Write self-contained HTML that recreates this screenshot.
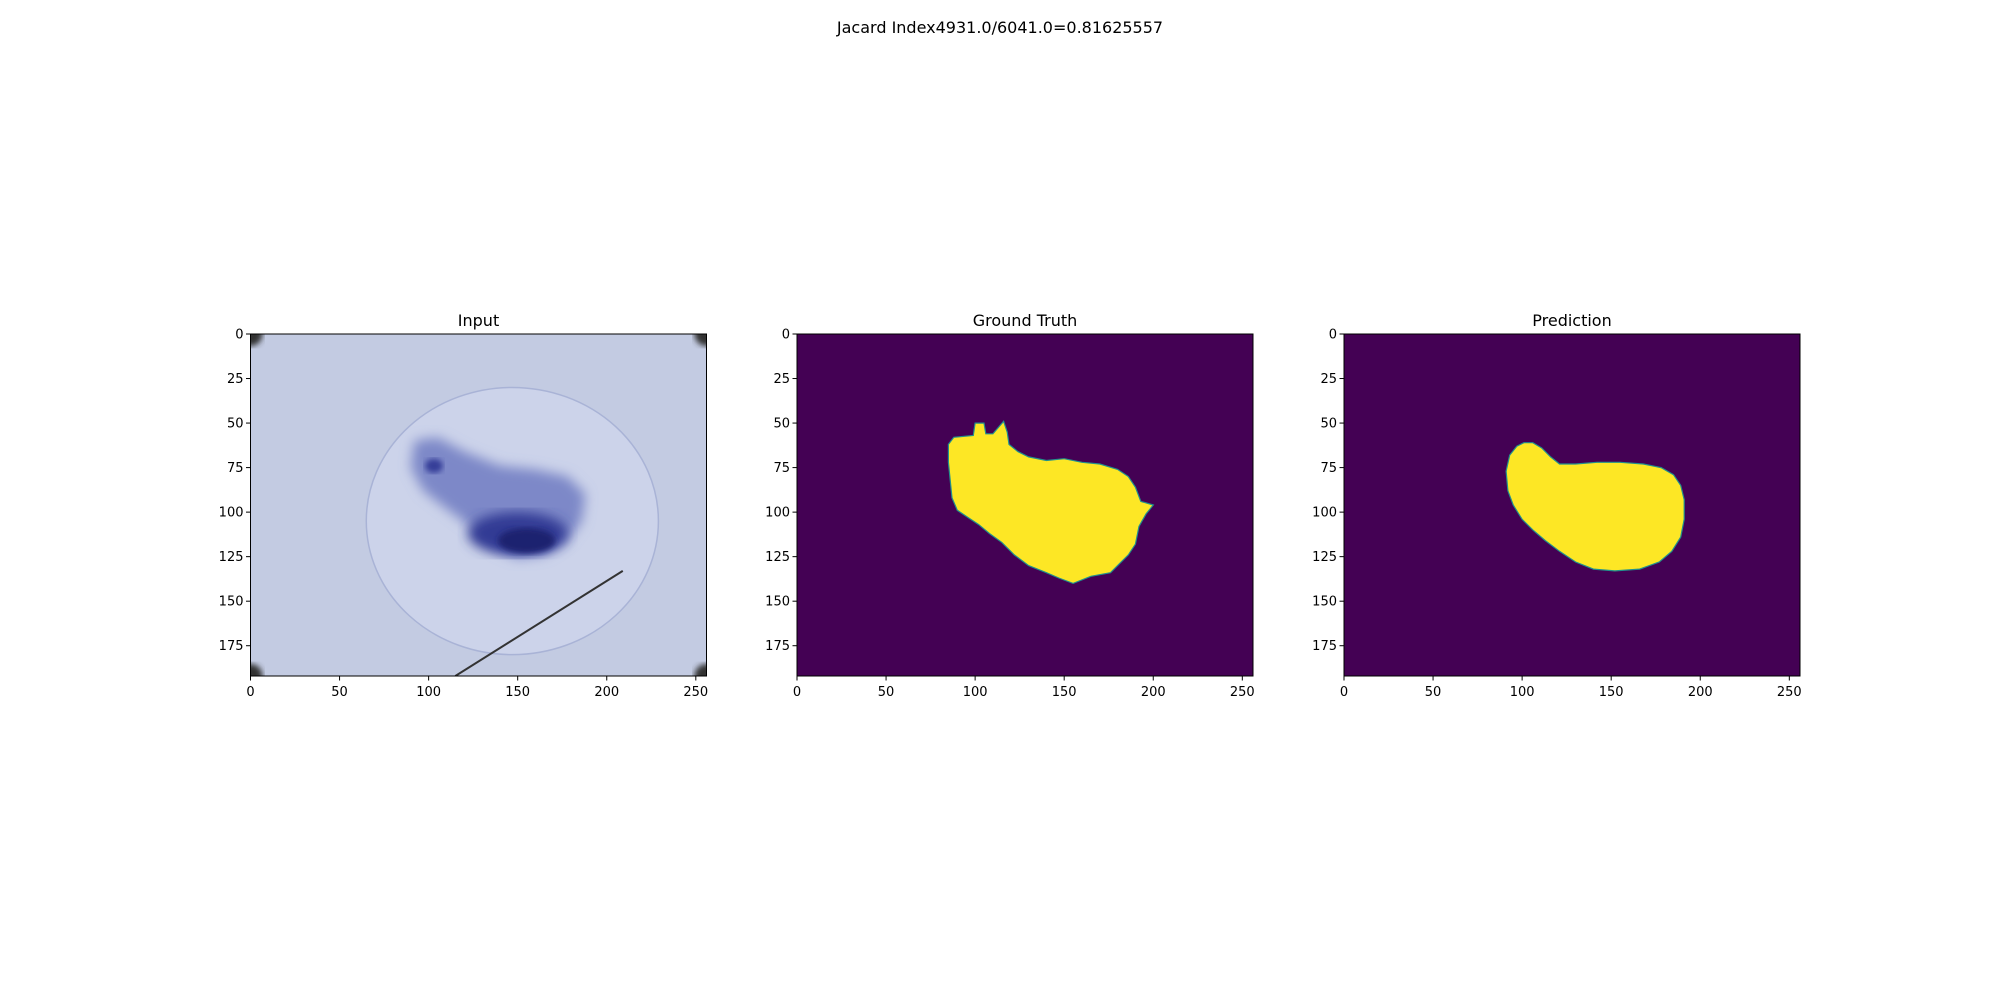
<!DOCTYPE html>
<html><head><meta charset="utf-8"><style>
body{margin:0;background:#fff;width:2000px;height:1000px;overflow:hidden;font-family:"Liberation Sans","DejaVu Sans",sans-serif}
svg text{font-family:"DejaVu Sans","Liberation Sans",sans-serif}
</style></head><body>
<svg id="fig" width="2000" height="1000" xmlns="http://www.w3.org/2000/svg">
<defs>
<filter id="blur6"><feGaussianBlur stdDeviation="6"/></filter>
<filter id="blur3"><feGaussianBlur stdDeviation="3"/></filter>
<filter id="blur1"><feGaussianBlur stdDeviation="1"/></filter>
<clipPath id="clipIn"><rect x="250.5" y="334" width="456" height="342"/></clipPath>
</defs>
<text x="1000" y="33" text-anchor="middle" font-size="16">Jacard Index4931.0/6041.0=0.81625557</text>
</svg>
<script>
const xTicks=[0,50,100,150,200,250];
const yTicks=[0,25,50,75,100,125,150,175];
const imgW=256, imgH=192;
const panelTitles=["Input","Ground Truth","Prediction"];
const gtOutline=[[85,62],[88,58],[99,57],[100,50],[105,50],[106,56],[110,56],[116,49],[118,55],[119,62],[124,66],[130,69],[140,71],[150,70],[160,72],[170,73],[180,76],[186,80],[190,86],[193,94],[200,96],[196,101],[192,108],[190,118],[186,124],[180,130],[176,134],[165,136],[155,140],[147,137],[140,134],[130,130],[122,124],[115,117],[108,112],[102,107],[96,103],[90,99],[87,92],[86,82],[85,72]];
const predOutline=[[91,77],[93,68],[97,63],[101,61],[106,61],[111,64],[116,69],[121,73],[130,73],[142,72],[155,72],[168,73],[178,75],[185,79],[189,85],[191,93],[191,104],[189,114],[184,122],[177,128],[166,132],[152,133],[140,132],[130,128],[121,122],[113,116],[106,110],[100,104],[95,96],[92,88]];
const lesionDark=[[92,60],[105,58],[120,66],[140,74],[160,76],[178,80],[188,90],[186,105],[177,117],[165,124],[150,126],[138,121],[126,110],[110,98],[97,88],[90,75]];
const ruler=[[115,192],[209,133]];
const NS="http://www.w3.org/2000/svg";
const svg=document.getElementById('fig');
const axesLeft=[250.5,797,1344], axTop=334, axW=456, axH=342;
function mk(t,a,p){const e=document.createElementNS(NS,t);for(const k in a)e.setAttribute(k,a[k]);(p||svg).appendChild(e);return e;}
function sx(i,v){return axesLeft[i]+v/imgW*axW;}
function sy(v){return axTop+v/imgH*axH;}
function poly(i,pts){return pts.map(p=>sx(i,p[0]).toFixed(1)+","+sy(p[1]).toFixed(1)).join(" ");}
for(let i=0;i<3;i++){
  const g=mk('g',{});
  
  
  const L=axesLeft[i];
  if(i===0){
    const ig=mk('g',{'clip-path':'url(#clipIn)'},g);
    
    
    mk('rect',{x:L,y:axTop,width:axW,height:axH,fill:'#c3cbe2'},ig);
    mk('ellipse',{cx:sx(0,147),cy:sy(105),rx:82/imgW*axW,ry:75/imgH*axH,fill:'#ccd3ea',stroke:'#a9b3d6','stroke-width':1.5},ig);
    mk('polygon',{points:poly(0,lesionDark),fill:'#7d88c8',filter:'url(#blur6)'},ig);
    mk('ellipse',{cx:sx(0,150),cy:sy(112),rx:28/imgW*axW,ry:12/imgH*axH,fill:'#303a94',filter:'url(#blur6)'},ig);
    mk('ellipse',{cx:sx(0,155),cy:sy(116),rx:16/imgW*axW,ry:7/imgH*axH,fill:'#1d2370',filter:'url(#blur3)'},ig);
    mk('ellipse',{cx:sx(0,103),cy:sy(74),rx:5/imgW*axW,ry:4/imgH*axH,fill:'#343e98',filter:'url(#blur3)'},ig);
    const r=mk('line',{x1:sx(0,ruler[0][0]),y1:sy(ruler[0][1]),x2:sx(0,ruler[1][0]),y2:sy(ruler[1][1]),stroke:'#333','stroke-width':2},ig);
    
    
    for(const c of [[0,0],[256,0],[0,192],[256,192]]) mk('circle',{cx:sx(0,c[0]),cy:sy(c[1]),r:12,fill:'#333',filter:'url(#blur3)'},ig);
  } else {
    mk('rect',{x:L,y:axTop,width:axW,height:axH,fill:'#440154'},g);
    const m=mk('polygon',{points:poly(i,i===1?gtOutline:predOutline),fill:'#fde725',stroke:'#21918c','stroke-width':1.2},g);
    
    
  }
  mk('rect',{x:L,y:axTop,width:axW,height:axH,fill:'none',stroke:'#000','stroke-width':1},g);
  const t=mk('text',{x:L+axW/2,y:axTop-8,'text-anchor':'middle','font-size':16},g);
  t.textContent=panelTitles[i];
  
  
  for(const v of xTicks){
    const x=sx(i,v);
    mk('line',{x1:x,y1:axTop+axH,x2:x,y2:axTop+axH+4.5,stroke:'#000'},g);
    const tx=mk('text',{x:x,y:axTop+axH+20,'text-anchor':'middle','font-size':13},g);
    tx.textContent=v;
    
    
  }
  for(const v of yTicks){
    const y=sy(v);
    mk('line',{x1:L-4.5,y1:y,x2:L,y2:y,stroke:'#000'},g);
    const ty=mk('text',{x:L-7,y:y+4.5,'text-anchor':'end','font-size':13},g);
    ty.textContent=v;
    
    
  }
}
</script>
</body></html>
